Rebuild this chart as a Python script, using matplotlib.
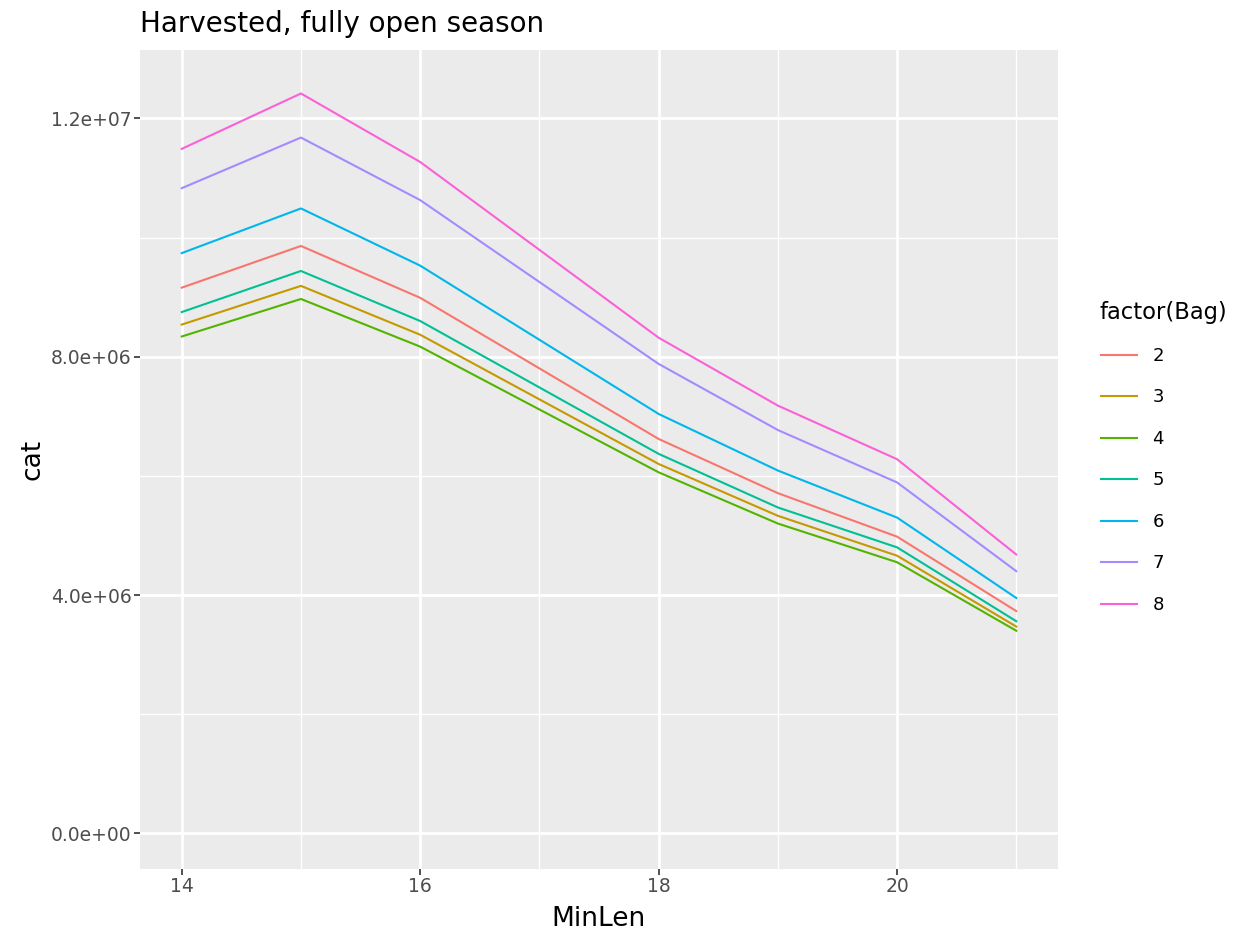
import matplotlib
matplotlib.use("Agg")
import matplotlib.pyplot as plt
from matplotlib.ticker import FixedLocator

plt.rcParams['font.family'] = ['DejaVu Sans']

# data
min_len = [14, 15, 16, 18, 19, 20, 21]
bags = ["2", "3", "4", "5", "6", "7", "8"]
cat = {
    "2": [9.16e6, 9.86e6, 8.99e6, 6.62e6, 5.71e6, 4.98e6, 3.73e6],
    "3": [8.54e6, 9.19e6, 8.37e6, 6.20e6, 5.33e6, 4.66e6, 3.47e6],
    "4": [8.34e6, 8.97e6, 8.17e6, 6.06e6, 5.20e6, 4.55e6, 3.40e6],
    "5": [8.75e6, 9.44e6, 8.60e6, 6.37e6, 5.47e6, 4.80e6, 3.56e6],
    "6": [9.74e6, 10.49e6, 9.53e6, 7.04e6, 6.09e6, 5.30e6, 3.95e6],
    "7": [10.83e6, 11.68e6, 10.63e6, 7.88e6, 6.77e6, 5.89e6, 4.40e6],
    "8": [11.49e6, 12.42e6, 11.27e6, 8.32e6, 7.18e6, 6.28e6, 4.68e6],
}
colors = ["#F8766D", "#C49A00", "#53B400", "#00C094", "#00B6EB", "#A58AFF", "#FB61D7"]
x_ticks = [14, 16, 18, 20]
y_ticks = [0, 4e6, 8e6, 1.2e7]
y_tick_labels = ["0.0e+00", "4.0e+06", "8.0e+06", "1.2e+07"]

W, H = 1239, 934
fig = plt.figure(figsize=(W / 100, H / 100), dpi=100)
ax = fig.add_axes([140 / W, 65 / H, 918 / W, 819 / H])
ax.set_facecolor("#EBEBEB")

lines = []
for b, c in zip(bags, colors):
    ln, = ax.plot(min_len, cat[b], color=c, lw=1.5, label=b)
    lines.append(ln)

ax.set_xlim(13.65, 21.35)
ax.set_ylim(-0.6e6, 13.15e6)

ax.set_xticks(x_ticks)
ax.set_yticks(y_ticks)
ax.set_yticklabels(y_tick_labels)
ax.xaxis.set_minor_locator(FixedLocator([15, 17, 19, 21]))
ax.yaxis.set_minor_locator(FixedLocator([2e6, 6e6, 1e7]))
ax.grid(which="major", color="white", lw=2.0)
ax.grid(which="minor", color="white", lw=1.0)
ax.set_axisbelow(True)
for s in ax.spines.values():
    s.set_visible(False)
ax.tick_params(which="major", length=4, width=1.2, color="#333333",
               labelsize=13.5, labelcolor="#4D4D4D", pad=2)
ax.tick_params(which="minor", length=0)

ax.set_xlabel("MinLen", fontsize=19, labelpad=7)
ax.set_ylabel("cat", fontsize=19, labelpad=4)
fig.text(140 / W, 1 - 32 / H, "Harvested, fully open season", fontsize=20,
         ha="left", va="baseline")

# legend
fig.text(1099 / W, 1 - 313 / H, "factor(Bag)", fontsize=16.3, ha="left", va="center")
fig.legend(lines, bags, loc="upper left", bbox_to_anchor=(1101 / W, 1 - 347 / H),
           frameon=False, fontsize=13, handlelength=2.0, handletextpad=0.85,
           labelspacing=1.3, borderpad=0, borderaxespad=0)

fig.savefig("out.png", dpi=100)
